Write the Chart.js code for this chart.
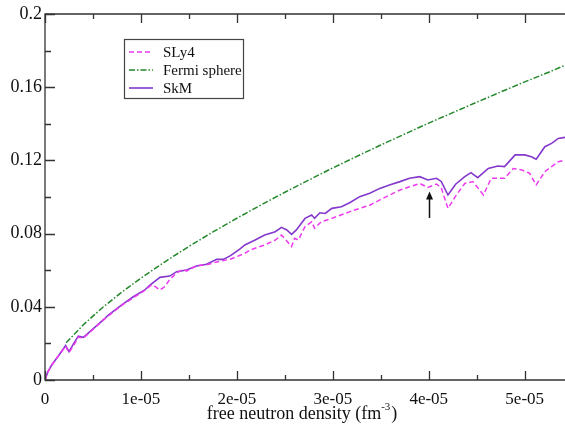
<!DOCTYPE html>
<html>
<head>
<meta charset="utf-8">
<title>Free neutron density</title>
<script src="https://cdn.jsdelivr.net/npm/chart.js@4"></script>
<style>
  html, body { margin: 0; padding: 0; background: #fff; overflow: hidden; }
  #chart { display: block; }
</style>
</head>
<body>
<canvas id="chart" width="565" height="430"></canvas>
<script>
// ── Data (densities in units of 1e-5 fm^-3) ──
const SLY4_N = [0, 0.03, 0.07, 0.139, 0.215, 0.25, 0.30, 0.347, 0.40, 0.486, 0.625, 0.80, 1.04, 1.11, 1.15, 1.198, 1.25, 1.30, 1.372, 1.44, 1.476, 1.58, 1.684, 1.79, 1.93, 2.083, 2.135, 2.29, 2.40, 2.465, 2.52, 2.57, 2.60, 2.64, 2.71, 2.78, 2.81, 2.88, 2.99, 3.125, 3.18, 3.28, 3.385, 3.49, 3.59, 3.70, 3.80, 3.906, 3.99, 4.08, 4.13, 4.20, 4.28, 4.375, 4.46, 4.57, 4.65, 4.79, 4.88, 4.97, 5.05, 5.12, 5.21, 5.28, 5.35, 5.42];
const SLY4_E = [0, 0.0045, 0.0082, 0.0131, 0.0185, 0.0150, 0.019, 0.0235, 0.0228, 0.027, 0.0335, 0.0408, 0.049, 0.0519, 0.051, 0.0492, 0.051, 0.055, 0.0585, 0.0605, 0.0595, 0.0625, 0.063, 0.0645, 0.066, 0.0692, 0.071, 0.0738, 0.0765, 0.0792, 0.076, 0.0729, 0.0774, 0.0765, 0.0838, 0.0865, 0.0829, 0.0865, 0.0883, 0.091, 0.092, 0.0938, 0.0955, 0.0984, 0.101, 0.1038, 0.1056, 0.1074, 0.1052, 0.1071, 0.105, 0.0938, 0.1005, 0.1074, 0.1084, 0.1011, 0.1102, 0.1102, 0.1156, 0.1148, 0.113, 0.1066, 0.1138, 0.1166, 0.1193, 0.1202];

const FERMI_N = [0.22, 0.4, 0.6, 0.8, 1.0, 1.25, 1.5, 1.75, 2.0, 2.25, 2.5, 2.75, 3.0, 3.25, 3.5, 3.75, 4.0, 4.25, 4.5, 4.75, 5.0, 5.25, 5.42];
const FERMI_E = [0.0203, 0.0302, 0.0396, 0.0480, 0.0557, 0.0646, 0.0730, 0.0809, 0.0884, 0.0956, 0.1026, 0.1093, 0.1159, 0.1222, 0.1284, 0.1344, 0.1404, 0.1461, 0.1518, 0.1574, 0.1629, 0.1682, 0.172];

const SKM_N = [0, 0.03, 0.07, 0.139, 0.215, 0.25, 0.30, 0.347, 0.40, 0.486, 0.625, 0.66, 0.80, 0.92, 1.04, 1.094, 1.198, 1.30, 1.372, 1.476, 1.58, 1.684, 1.79, 1.857, 1.93, 2.03, 2.083, 2.19, 2.29, 2.40, 2.465, 2.52, 2.57, 2.62, 2.71, 2.78, 2.81, 2.865, 2.92, 2.99, 3.09, 3.18, 3.28, 3.385, 3.49, 3.59, 3.70, 3.80, 3.906, 3.99, 4.08, 4.13, 4.20, 4.28, 4.375, 4.44, 4.51, 4.62, 4.72, 4.79, 4.90, 5.0, 5.07, 5.12, 5.21, 5.28, 5.35, 5.42];
const SKM_E = [0, 0.0045, 0.0082, 0.0131, 0.0188, 0.0155, 0.020, 0.024, 0.0233, 0.0273, 0.0337, 0.0355, 0.041, 0.0455, 0.0492, 0.0519, 0.0561, 0.0568, 0.0592, 0.0601, 0.0623, 0.0632, 0.0659, 0.0659, 0.0678, 0.0715, 0.0738, 0.0765, 0.0792, 0.081, 0.0834, 0.082, 0.0796, 0.082, 0.0883, 0.0902, 0.0883, 0.0914, 0.091, 0.0938, 0.0947, 0.097, 0.1002, 0.102, 0.1047, 0.1066, 0.1084, 0.1102, 0.1111, 0.1093, 0.1102, 0.1085, 0.1011, 0.107, 0.1111, 0.1133, 0.1106, 0.1156, 0.1169, 0.1166, 0.123, 0.123, 0.122, 0.1206, 0.1275, 0.1293, 0.132, 0.1326];

const X_TICKS       = [0, 1e-5, 2e-5, 3e-5, 4e-5, 5e-5];
const X_TICK_LABELS = ['0', '1e-05', '2e-05', '3e-05', '4e-05', '5e-05'];
const Y_TICKS       = [0, 0.04, 0.08, 0.12, 0.16, 0.2];
const Y_TICK_LABELS = ['0', '0.04', '0.08', '0.12', '0.16', '0.2'];
const X_MAX = 5.42e-5;
const Y_MAX = 0.2;

// Arrow marking the feature near 4e-05
const ARROW_X = 4e-5;
const ARROW_FROM = 0.0885;
const ARROW_TO = 0.103;

// ── Style ─────────────────────────────────────────────────────
const SERIF = "'Liberation Serif', 'Times New Roman', serif";
const AXIS_COLOR = '#333';
const COLORS = { sly4: '#ee3aee', fermi: '#23882a', skm: '#8438cc' };

const toPoints = (ns, es) => ns.map((n, i) => ({ x: n * 1e-5, y: es[i] }));

const datasets = [
  { label: 'SLy4', data: toPoints(SLY4_N, SLY4_E), borderColor: COLORS.sly4, borderWidth: 1.5, borderDash: [5, 3] },
  { label: 'Fermi sphere', data: toPoints(FERMI_N, FERMI_E), borderColor: COLORS.fermi, borderWidth: 1.5, borderDash: [6, 2, 1.5, 2] },
  { label: 'SkM', data: toPoints(SKM_N, SKM_E), borderColor: COLORS.skm, borderWidth: 1.6 },
];

// ── Frame, inward ticks, arrow, legend, axis title ───────────
const decorPlugin = {
  id: 'decor',
  afterDatasetsDraw(chart) {
    const { ctx, chartArea: a, scales: { x, y } } = chart;
    ctx.save();
    ctx.strokeStyle = AXIS_COLOR;
    ctx.lineWidth = 1.3;
    ctx.setLineDash([]);

    // frame (right edge is cut off in the original)
    ctx.beginPath();
    ctx.moveTo(a.right + 1, a.top);
    ctx.lineTo(a.left, a.top);
    ctx.lineTo(a.left, a.bottom);
    ctx.lineTo(a.right + 1, a.bottom);
    ctx.stroke();

    // x ticks, major + minor, bottom and top
    ctx.beginPath();
    for (let v = 0; v <= X_MAX + 1e-12; v += 0.5e-5) {
      const px = Math.round(x.getPixelForValue(v)) + 0.5;
      const major = Math.abs(v / 1e-5 - Math.round(v / 1e-5)) < 1e-6;
      const len = major ? 9 : 5;
      ctx.moveTo(px, a.bottom); ctx.lineTo(px, a.bottom - len);
      ctx.moveTo(px, a.top); ctx.lineTo(px, a.top + len);
    }
    // y ticks
    for (let v = 0; v <= Y_MAX + 1e-9; v += 0.02) {
      const py = Math.round(y.getPixelForValue(v)) + 0.5;
      const major = Math.abs(v / 0.04 - Math.round(v / 0.04)) < 1e-6;
      const len = major ? 10 : 6;
      ctx.moveTo(a.left, py); ctx.lineTo(a.left + len, py);
    }
    ctx.stroke();

    // arrow
    const ax = Math.round(x.getPixelForValue(ARROW_X)) + 0.5;
    const y0 = y.getPixelForValue(ARROW_FROM);
    const y1 = y.getPixelForValue(ARROW_TO);
    ctx.strokeStyle = '#111';
    ctx.fillStyle = '#111';
    ctx.lineWidth = 1.5;
    ctx.beginPath();
    ctx.moveTo(ax, y0); ctx.lineTo(ax, y1 + 5);
    ctx.stroke();
    ctx.beginPath();
    ctx.moveTo(ax, y1); ctx.lineTo(ax - 3.5, y1 + 8); ctx.lineTo(ax + 3.5, y1 + 8);
    ctx.closePath();
    ctx.fill();

    // legend box
    const box = { l: 124.5, t: 39.5, r: 243.5, b: 98.5 };
    ctx.strokeStyle = '#444';
    ctx.lineWidth = 1.2;
    ctx.strokeRect(box.l, box.t, box.r - box.l, box.b - box.t);
    ctx.font = `15px ${SERIF}`;
    ctx.textBaseline = 'middle';
    ctx.textAlign = 'left';
    chart.data.datasets.forEach((ds, i) => {
      const ly = 52 + i * 18;
      ctx.strokeStyle = ds.borderColor;
      ctx.lineWidth = ds.borderWidth;
      ctx.setLineDash(ds.borderDash || []);
      ctx.beginPath();
      ctx.moveTo(129, ly); ctx.lineTo(153, ly);
      ctx.stroke();
      ctx.setLineDash([]);
      ctx.fillStyle = '#111';
      ctx.fillText(ds.label, 163, ly + 1);
    });

    // x axis title with superscript
    ctx.fillStyle = '#111';
    ctx.textBaseline = 'alphabetic';
    const main = 'free neutron density (fm';
    const sup = '-3';
    const close = ')';
    ctx.font = `18px ${SERIF}`;
    const wMain = ctx.measureText(main).width;
    const wClose = ctx.measureText(close).width;
    ctx.font = `11px ${SERIF}`;
    const wSup = ctx.measureText(sup).width;
    const total = wMain + wSup + wClose + 1;
    let tx = 302 - total / 2;
    const base = 419;
    ctx.font = `18px ${SERIF}`;
    ctx.fillText(main, tx, base);
    tx += wMain;
    ctx.font = `11px ${SERIF}`;
    ctx.fillText(sup, tx, base - 9);
    tx += wSup + 1;
    ctx.font = `18px ${SERIF}`;
    ctx.fillText(close, tx, base);
    ctx.restore();
  }
};

new Chart(document.getElementById('chart'), {
  type: 'line',
  data: { datasets },
  options: {
    responsive: false,
    animation: false,
    parsing: true,
    layout: { padding: { top: 14, right: 0, left: 0, bottom: 0 } },
    elements: {
      point: { radius: 0 },
      line: { tension: 0, fill: false, borderCapStyle: 'butt' },
    },
    plugins: {
      legend: { display: false },
      tooltip: { enabled: false },
    },
    scales: {
      x: {
        type: 'linear',
        min: 0,
        max: X_MAX,
        grid: { display: false, drawTicks: false },
        border: { display: false },
        afterFit: (s) => { s.height = 50; },
        afterBuildTicks: (s) => { s.ticks = X_TICKS.map(v => ({ value: v })); },
        ticks: {
          autoSkip: false,
          maxRotation: 0,
          padding: 9,
          color: '#111',
          font: { family: SERIF, size: 17 },
          callback: (v, i) => X_TICK_LABELS[i],
        },
      },
      y: {
        type: 'linear',
        min: 0,
        max: Y_MAX,
        grid: { display: false, drawTicks: false },
        border: { display: false },
        afterFit: (s) => { s.width = 45; },
        afterBuildTicks: (s) => { s.ticks = Y_TICKS.map(v => ({ value: v })); },
        ticks: {
          autoSkip: false,
          padding: 3,
          color: '#111',
          font: { family: SERIF, size: 18 },
          callback: (v, i) => Y_TICK_LABELS[i],
        },
      },
    },
  },
  plugins: [decorPlugin],
});
</script>
</body>
</html>
